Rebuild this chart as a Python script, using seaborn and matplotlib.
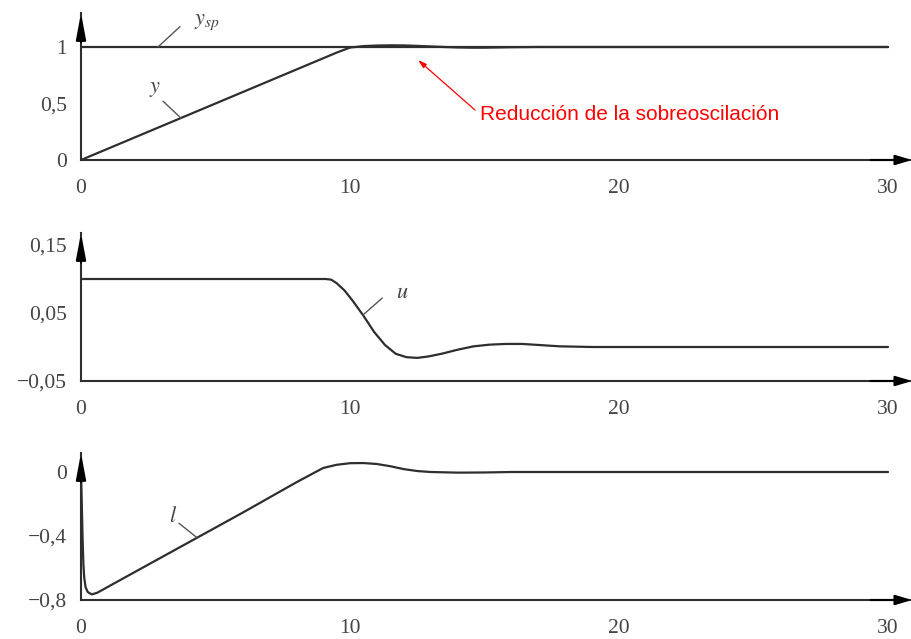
import numpy as np
import pandas as pd
import matplotlib
matplotlib.use("Agg")
import matplotlib.pyplot as plt
import seaborn as sns

# ---------------- data ----------------
t_y = [0, 9.5, 10, 10.5, 11, 11.5, 12, 12.5, 13, 13.5, 14, 14.5, 15, 15.5, 16, 17, 18, 30]
y_vals = [0, 0.95, 0.995, 1.008, 1.013, 1.015, 1.014, 1.010, 1.005, 1.0, 0.996,
          0.994, 0.994, 0.996, 0.998, 1.0, 1.0, 1.0]
t_sp = [0, 30]
ysp_vals = [1, 1]

t_u = [0, 9.1, 9.3, 9.5, 9.8, 10.1, 10.5, 10.9, 11.3, 11.7, 12.1, 12.5, 12.9, 13.4,
       14.0, 14.6, 15.2, 15.8, 16.4, 17.0, 17.8, 19, 30]
u_vals = [0.1, 0.1, 0.099, 0.094, 0.083, 0.068, 0.046, 0.022, 0.003, -0.010, -0.015,
          -0.016, -0.014, -0.010, -0.004, 0.001, 0.0035, 0.0045, 0.0045, 0.003,
          0.001, 0.0, 0.0]

t_l = [0, 0.03, 0.06, 0.09, 0.12, 0.17, 0.25, 0.4, 0.6, 2, 4, 6, 8, 9, 9.5, 10,
       10.5, 11, 11.5, 12, 12.5, 13, 14, 15, 16, 30]
l_vals = [0, -0.2, -0.42, -0.58, -0.66, -0.72, -0.75, -0.765, -0.755, -0.625,
          -0.44, -0.255, -0.065, 0.025, 0.045, 0.055, 0.056, 0.05, 0.036, 0.018,
          0.006, 0.0, -0.004, -0.003, 0.0, 0.0]

x_ticks = [0, 10, 20, 30]
x_ticklabels = ["0", "10", "20", "30"]
y1_ticks = [0, 0.5, 1]
y1_ticklabels = ["0", "0,5", "1"]
y2_ticks = [-0.05, 0, 0.05, 0.1, 0.15]
y2_ticklabels = ["\u22120,05", "", "0,05", "", "0,15"]
y3_ticks = [-0.8, -0.6, -0.4, -0.2, 0]
y3_ticklabels = ["\u22120,8", "", "\u22120,4", "", "0"]

annotation_text = "Reducción de la sobreoscilación"

# ---------------- style ----------------
sns.set_theme(style="white")
plt.rcParams["font.family"] = ["Liberation Serif", "DejaVu Serif"]
plt.rcParams["mathtext.fontset"] = "stix"

W, H = 912, 639
fig = plt.figure(figsize=(W / 100, H / 100), dpi=100)

LC = "#2e2e2e"
TC = "#444444"

def px_axes(left, top, right, bottom):
    return fig.add_axes([left / W, 1 - bottom / H, (right - left) / W, (bottom - top) / H])

xmax = (912 - 81) / 26.9
ax1 = px_axes(81, 13, 912, 160)
ax2 = px_axes(81, 233, 912, 381)
ax3 = px_axes(81, 453, 912, 600)

ax1.set_ylim(0, (160 - 13) / 113)
ax2.set_ylim(-0.05, -0.05 + (381 - 233) / 680)
ax3.set_ylim(-0.8, -0.8 + (600 - 453) / 160)

df_y = pd.DataFrame({"t": t_y, "v": y_vals})
df_sp = pd.DataFrame({"t": t_sp, "v": ysp_vals})
df_u = pd.DataFrame({"t": t_u, "v": u_vals})
df_l = pd.DataFrame({"t": t_l, "v": l_vals})

sns.lineplot(data=df_sp, x="t", y="v", ax=ax1, color=LC, lw=1.6, sort=False)
sns.lineplot(data=df_y, x="t", y="v", ax=ax1, color=LC, lw=1.6, sort=False)
sns.lineplot(data=df_u, x="t", y="v", ax=ax2, color=LC, lw=1.6, sort=False)
sns.lineplot(data=df_l, x="t", y="v", ax=ax3, color=LC, lw=1.6, sort=False)

for ax, yt, ytl in [(ax1, y1_ticks, y1_ticklabels),
                    (ax2, y2_ticks, y2_ticklabels),
                    (ax3, y3_ticks, y3_ticklabels)]:
    ax.set_xlim(0, xmax)
    ax.set_xticks(x_ticks)
    ax.set_xticklabels(x_ticklabels)
    ax.set_yticks(yt)
    ax.set_yticklabels(ytl)
    ax.set_xlabel("")
    ax.set_ylabel("")
    for s in ["top", "right"]:
        ax.spines[s].set_visible(False)
    for s in ["left", "bottom"]:
        ax.spines[s].set_color(LC)
        ax.spines[s].set_linewidth(1.5)
    ax.tick_params(axis="both", direction="out", length=5, width=1.2, color=LC,
                   labelsize=15.5, labelcolor=TC)
    ax.tick_params(axis="x", pad=8, length=6)
    ax.tick_params(axis="y", pad=5)
    ax.set_facecolor("none")
    # axis arrows
    ax.annotate("", xy=(0, 1), xycoords="axes fraction",
                xytext=(0, 0.8), textcoords="axes fraction",
                arrowprops=dict(arrowstyle="-|>,head_length=1.6,head_width=0.3",
                                color="black", lw=1.5, shrinkA=0, shrinkB=0,
                                mutation_scale=10))
    ax.annotate("", xy=(1, 0), xycoords="axes fraction",
                xytext=(0.95, 0), textcoords="axes fraction",
                arrowprops=dict(arrowstyle="-|>,head_length=1.0,head_width=0.3",
                                color="black", lw=1.5, shrinkA=0, shrinkB=0,
                                mutation_scale=10))

# ---------------- curve labels with leader lines ----------------
lead = dict(color="#555555", lw=1.0)
# y_sp
ax1.plot([2.86, 3.68], [1.0, 1.18], **lead)
ax1.text(4.2, 1.22, r"$y_{sp}$", fontsize=16, color=TC, va="center", ha="left")
# y
ax1.plot([3.05, 3.72], [0.52, 0.37], **lead)
ax1.text(2.75, 0.62, r"$y$", fontsize=16, color=TC, va="center", ha="center")
# u
ax2.plot([10.48, 11.2], [0.047, 0.072], **lead)
ax2.text(11.95, 0.079, r"$u$", fontsize=16, color=TC, va="center", ha="center")
# l
ax3.plot([3.64, 4.31], [-0.32, -0.41], **lead)
ax3.text(3.42, -0.28, r"$l$", fontsize=16, color=TC, va="center", ha="center")

# red annotation
ax1.annotate(annotation_text, xy=(12.53, 0.885), xycoords="data",
             xytext=(14.85, 0.40), textcoords="data",
             fontsize=15, color="red", family=["Liberation Sans", "DejaVu Sans"],
             va="center", ha="left",
             arrowprops=dict(arrowstyle="-|>,head_length=0.5,head_width=0.15",
                             color="red", lw=0.9, shrinkA=2, shrinkB=0,
                             mutation_scale=10, relpos=(0, 0.5)))

fig.savefig("out.png", dpi=100, facecolor="white")
